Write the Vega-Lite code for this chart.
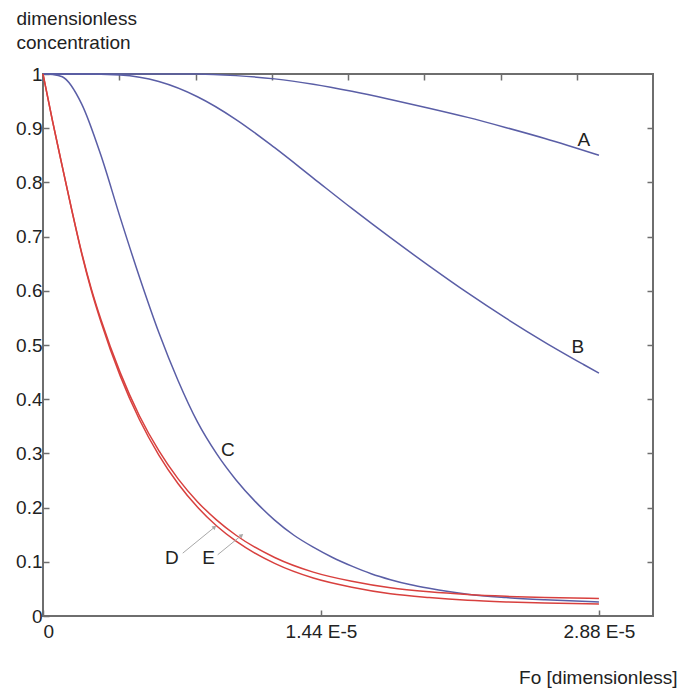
{
  "$schema": "https://vega.github.io/schema/vega-lite/v6.json",
  "width": 610,
  "height": 542,
  "autosize": {"type": "none"},
  "padding": {"left": 43, "top": 74, "right": 38, "bottom": 77},
  "background": "white",
  "config": {
    "view": {"stroke": "#6e6e6e", "strokeWidth": 2},
    "font": "Liberation Sans",
    "axis": {
      "domain": false,
      "grid": false,
      "labelFont": "Liberation Sans",
      "labelFontSize": 19,
      "labelColor": "#222222",
      "tickColor": "#6e6e6e",
      "tickWidth": 1.5,
      "titleFont": "Liberation Sans",
      "titleFontSize": 19,
      "titleFontWeight": "normal",
      "titleColor": "#222222"
    }
  },
  "datasets": {
    "curves": [
      {"s": "A", "fo": 0, "c": 1},
      {"s": "A", "fo": 0.4, "c": 1},
      {"s": "A", "fo": 0.8, "c": 1},
      {"s": "A", "fo": 1.0, "c": 0.997},
      {"s": "A", "fo": 1.2, "c": 0.991},
      {"s": "A", "fo": 1.4, "c": 0.981},
      {"s": "A", "fo": 1.6, "c": 0.968},
      {"s": "A", "fo": 1.8, "c": 0.953},
      {"s": "A", "fo": 2.0, "c": 0.937},
      {"s": "A", "fo": 2.2, "c": 0.92},
      {"s": "A", "fo": 2.4, "c": 0.901},
      {"s": "A", "fo": 2.6, "c": 0.881},
      {"s": "A", "fo": 2.88, "c": 0.85},
      {"s": "B", "fo": 0, "c": 1},
      {"s": "B", "fo": 0.2, "c": 1},
      {"s": "B", "fo": 0.4, "c": 0.998},
      {"s": "B", "fo": 0.6, "c": 0.986},
      {"s": "B", "fo": 0.8, "c": 0.958},
      {"s": "B", "fo": 1.0, "c": 0.916},
      {"s": "B", "fo": 1.2, "c": 0.864},
      {"s": "B", "fo": 1.4, "c": 0.808},
      {"s": "B", "fo": 1.6, "c": 0.752},
      {"s": "B", "fo": 1.8, "c": 0.698},
      {"s": "B", "fo": 2.0, "c": 0.646},
      {"s": "B", "fo": 2.2, "c": 0.596},
      {"s": "B", "fo": 2.4, "c": 0.549},
      {"s": "B", "fo": 2.6, "c": 0.505},
      {"s": "B", "fo": 2.8, "c": 0.464},
      {"s": "B", "fo": 2.88, "c": 0.448},
      {"s": "C", "fo": 0, "c": 1},
      {"s": "C", "fo": 0.05, "c": 0.999},
      {"s": "C", "fo": 0.1, "c": 0.995},
      {"s": "C", "fo": 0.2, "c": 0.945},
      {"s": "C", "fo": 0.3, "c": 0.85},
      {"s": "C", "fo": 0.4, "c": 0.735},
      {"s": "C", "fo": 0.5, "c": 0.625},
      {"s": "C", "fo": 0.6, "c": 0.523},
      {"s": "C", "fo": 0.7, "c": 0.434},
      {"s": "C", "fo": 0.8, "c": 0.358},
      {"s": "C", "fo": 0.9, "c": 0.299},
      {"s": "C", "fo": 1.0, "c": 0.251},
      {"s": "C", "fo": 1.1, "c": 0.211},
      {"s": "C", "fo": 1.2, "c": 0.177},
      {"s": "C", "fo": 1.3, "c": 0.149},
      {"s": "C", "fo": 1.4, "c": 0.127},
      {"s": "C", "fo": 1.5, "c": 0.108},
      {"s": "C", "fo": 1.6, "c": 0.092},
      {"s": "C", "fo": 1.7, "c": 0.078},
      {"s": "C", "fo": 1.8, "c": 0.067},
      {"s": "C", "fo": 1.9, "c": 0.058},
      {"s": "C", "fo": 2.0, "c": 0.051},
      {"s": "C", "fo": 2.1, "c": 0.045},
      {"s": "C", "fo": 2.2, "c": 0.04},
      {"s": "C", "fo": 2.4, "c": 0.034},
      {"s": "C", "fo": 2.6, "c": 0.03},
      {"s": "C", "fo": 2.88, "c": 0.026},
      {"s": "D", "fo": 0, "c": 1},
      {"s": "D", "fo": 0.05, "c": 0.912},
      {"s": "D", "fo": 0.1, "c": 0.829},
      {"s": "D", "fo": 0.15, "c": 0.748},
      {"s": "D", "fo": 0.2, "c": 0.671},
      {"s": "D", "fo": 0.25, "c": 0.604},
      {"s": "D", "fo": 0.3, "c": 0.547},
      {"s": "D", "fo": 0.4, "c": 0.449},
      {"s": "D", "fo": 0.5, "c": 0.369},
      {"s": "D", "fo": 0.6, "c": 0.305},
      {"s": "D", "fo": 0.7, "c": 0.253},
      {"s": "D", "fo": 0.8, "c": 0.211},
      {"s": "D", "fo": 0.9, "c": 0.177},
      {"s": "D", "fo": 1.0, "c": 0.149},
      {"s": "D", "fo": 1.2, "c": 0.108},
      {"s": "D", "fo": 1.4, "c": 0.081},
      {"s": "D", "fo": 1.6, "c": 0.064},
      {"s": "D", "fo": 1.8, "c": 0.052},
      {"s": "D", "fo": 2.0, "c": 0.0446},
      {"s": "D", "fo": 2.2, "c": 0.0396},
      {"s": "D", "fo": 2.4, "c": 0.0363},
      {"s": "D", "fo": 2.6, "c": 0.0341},
      {"s": "D", "fo": 2.88, "c": 0.0323},
      {"s": "E", "fo": 0, "c": 1},
      {"s": "E", "fo": 0.05, "c": 0.912},
      {"s": "E", "fo": 0.1, "c": 0.829},
      {"s": "E", "fo": 0.15, "c": 0.747},
      {"s": "E", "fo": 0.2, "c": 0.669},
      {"s": "E", "fo": 0.25, "c": 0.601},
      {"s": "E", "fo": 0.3, "c": 0.543},
      {"s": "E", "fo": 0.4, "c": 0.443},
      {"s": "E", "fo": 0.5, "c": 0.362},
      {"s": "E", "fo": 0.6, "c": 0.297},
      {"s": "E", "fo": 0.7, "c": 0.244},
      {"s": "E", "fo": 0.8, "c": 0.201},
      {"s": "E", "fo": 0.9, "c": 0.166},
      {"s": "E", "fo": 1.0, "c": 0.138},
      {"s": "E", "fo": 1.2, "c": 0.097},
      {"s": "E", "fo": 1.4, "c": 0.07},
      {"s": "E", "fo": 1.6, "c": 0.053},
      {"s": "E", "fo": 1.8, "c": 0.041},
      {"s": "E", "fo": 2.0, "c": 0.034},
      {"s": "E", "fo": 2.2, "c": 0.029},
      {"s": "E", "fo": 2.4, "c": 0.026},
      {"s": "E", "fo": 2.6, "c": 0.024},
      {"s": "E", "fo": 2.88, "c": 0.022}
    ],
    "arrows": [
      {"name": "D", "x0": 0.724, "y0": 0.116, "x1": 0.889, "y1": 0.164},
      {"name": "E", "x0": 0.905, "y0": 0.113, "x1": 1.029, "y1": 0.149}
    ],
    "labels": [
      {"label": "A", "x": 2.802, "y": 0.878},
      {"label": "B", "x": 2.771, "y": 0.496},
      {"label": "C", "x": 0.957, "y": 0.306},
      {"label": "D", "x": 0.667, "y": 0.107},
      {"label": "E", "x": 0.858, "y": 0.107}
    ]
  },
  "layer": [
    {
      "data": {"name": "curves"},
      "mark": {"type": "line", "strokeWidth": 1.5, "interpolate": "monotone"},
      "encoding": {
        "x": {
          "field": "fo",
          "type": "quantitative",
          "scale": {"domain": [0, 3.16], "nice": false, "zero": false},
          "axis": {
            "orient": "bottom",
            "values": [0, 1.44, 2.88],
            "tickSize": -6,
            "labelPadding": 12,
            "labelExpr": "datum.value == 0 ? '0' : format(datum.value, '.2f') + ' E-5'",
            "title": "Fo [dimensionless]",
            "titleAlign": "right",
            "titleBaseline": "alphabetic",
            "titleX": 634,
            "titleY": 67
          }
        },
        "y": {
          "field": "c",
          "type": "quantitative",
          "scale": {"domain": [0, 1], "nice": false},
          "axis": {
            "orient": "left",
            "values": [0, 0.1, 0.2, 0.3, 0.4, 0.5, 0.6, 0.7, 0.8, 0.9, 1],
            "format": "~g",
            "tickSize": -6,
            "labelPadding": 7,
            "title": ["dimensionless", "concentration"],
            "titleAngle": 0,
            "titleAlign": "left",
            "titleBaseline": "alphabetic",
            "titleX": -27,
            "titleY": -50,
            "titleLineHeight": 24
          }
        },
        "color": {
          "field": "s",
          "type": "nominal",
          "scale": {"domain": ["A", "B", "C", "D", "E"], "range": ["#5a5ea6", "#5a5ea6", "#5a5ea6", "#d8403e", "#d8403e"]},
          "legend": null
        }
      }
    },
    {
      "data": {"name": "arrows"},
      "mark": {"type": "rule", "color": "#a8a8a8", "strokeWidth": 1},
      "encoding": {
        "x": {
          "field": "x0",
          "type": "quantitative",
          "scale": {"domain": [0, 3.16], "nice": false, "zero": false},
          "axis": {
            "orient": "top",
            "values": [0.395, 0.79, 1.185, 1.58, 1.975, 2.37, 2.765],
            "labels": false,
            "tickSize": -6,
            "title": null
          }
        },
        "y": {
          "field": "y0",
          "type": "quantitative",
          "scale": {"domain": [0, 1], "nice": false},
          "axis": {
            "orient": "right",
            "values": [0.1, 0.2, 0.3, 0.4, 0.5, 0.6, 0.7, 0.8, 0.9],
            "labels": false,
            "tickSize": -6,
            "title": null
          }
        },
        "x2": {"field": "x1"},
        "y2": {"field": "y1"}
      }
    },
    {
      "data": {"name": "arrows"},
      "mark": {"type": "point", "shape": "triangle-up", "angle": 50, "size": 22, "filled": true, "color": "#a8a8a8", "opacity": 1},
      "encoding": {
        "x": {"field": "x1", "type": "quantitative", "scale": {"domain": [0, 3.16], "nice": false, "zero": false}, "axis": null},
        "y": {"field": "y1", "type": "quantitative", "scale": {"domain": [0, 1], "nice": false}, "axis": null}
      }
    },
    {
      "data": {"name": "labels"},
      "mark": {"type": "text", "fontSize": 19, "font": "Liberation Sans", "color": "#222222", "align": "center", "baseline": "middle"},
      "encoding": {
        "x": {"field": "x", "type": "quantitative", "scale": {"domain": [0, 3.16], "nice": false, "zero": false}, "axis": null},
        "y": {"field": "y", "type": "quantitative", "scale": {"domain": [0, 1], "nice": false}, "axis": null},
        "text": {"field": "label"}
      }
    }
  ],
  "resolve": {"axis": {"x": "independent", "y": "independent"}}
}
